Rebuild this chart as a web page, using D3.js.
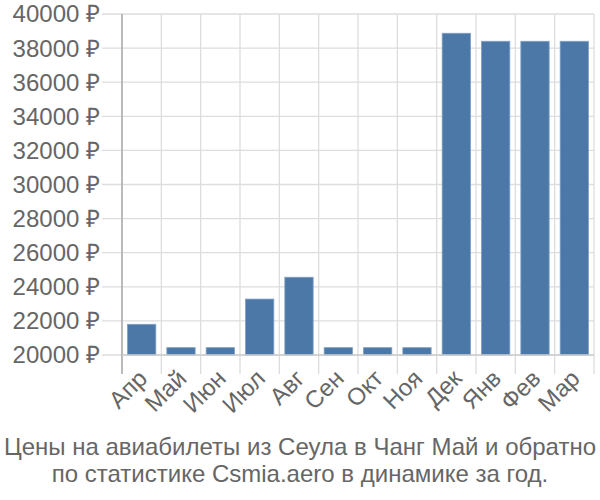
<!DOCTYPE html>
<html><head><meta charset="utf-8">
<script src="https://cdn.jsdelivr.net/npm/d3@7"></script>
<style>body{margin:0;background:#fff;}svg{display:block;font-family:"Liberation Sans",Arial,sans-serif;}</style>
</head><body><svg id="c" width="600" height="500"></svg>
<script>
const months = ["Апр","Май","Июн","Июл","Авг","Сен","Окт","Ноя","Дек","Янв","Фев","Мар"];
const prices = [21800,20430,20430,23280,24560,20430,20430,20430,38870,38400,38400,38400];
const yTicks = [20000,22000,24000,26000,28000,30000,32000,34000,36000,38000,40000];
const titleLines = ["Цены на авиабилеты из Сеула в Чанг Май и обратно","по статистике Csmia.aero в динамике за год."];

const svg = d3.select("#c");
const L=122,R=594,T=14,B=355;
const x = d3.scaleBand().domain(months).range([L,R]).paddingInner(0.28).paddingOuter(0.14);
const xb = d3.scaleBand().domain(months).range([L,R]);
const y = d3.scaleLinear().domain([20000,40000]).range([B,T]);

const grid = svg.append("g");
grid.selectAll("line.h").data(yTicks).join("line")
  .attr("x1",102).attr("x2",R).attr("y1",d=>y(d)).attr("y2",d=>y(d))
  .attr("stroke","#dddddd").attr("stroke-width",1.3);
const vb = months.map(m=>xb(m)).concat([R]);
grid.selectAll("line.v").data(vb).join("line")
  .attr("x1",d=>d).attr("x2",d=>d).attr("y1",T).attr("y2",374)
  .attr("stroke","#dddddd").attr("stroke-width",1.3);

svg.append("g").selectAll("rect").data(months).join("rect")
  .attr("x",m=>x(m)).attr("width",x.bandwidth())
  .attr("y",(m,i)=>y(prices[i])).attr("height",(m,i)=>B-y(prices[i]))
  .attr("fill","#4c78a8").attr("stroke","#7f9fc4").attr("stroke-width",0.8);

svg.append("line").attr("x1",L).attr("x2",L).attr("y1",T).attr("y2",374).attr("stroke","#aaaaaa").attr("stroke-width",1.5);
svg.append("line").attr("x1",L).attr("x2",R).attr("y1",B).attr("y2",B).attr("stroke","#cccccc").attr("stroke-width",1.5);

svg.append("g").selectAll("text").data(yTicks).join("text")
  .attr("x",100).attr("y",d=>y(d)).attr("dy","0.35em").attr("text-anchor","end")
  .attr("fill","#666").attr("font-size",24).text(d=>d+" ₽");

svg.append("g").selectAll("text").data(months).join("text")
  .attr("transform",m=>`translate(${x(m)+x.bandwidth()/2+1},${374}) rotate(-45)`)
  .attr("text-anchor","end").attr("dy","0.35em")
  .attr("fill","#666").attr("font-size",24).text(m=>m);

svg.append("g").selectAll("text").data(titleLines).join("text")
  .attr("x",300).attr("y",(d,i)=>455+i*27).attr("text-anchor","middle")
  .attr("fill","#666").attr("font-size",24).text(d=>d);
</script></body></html>
